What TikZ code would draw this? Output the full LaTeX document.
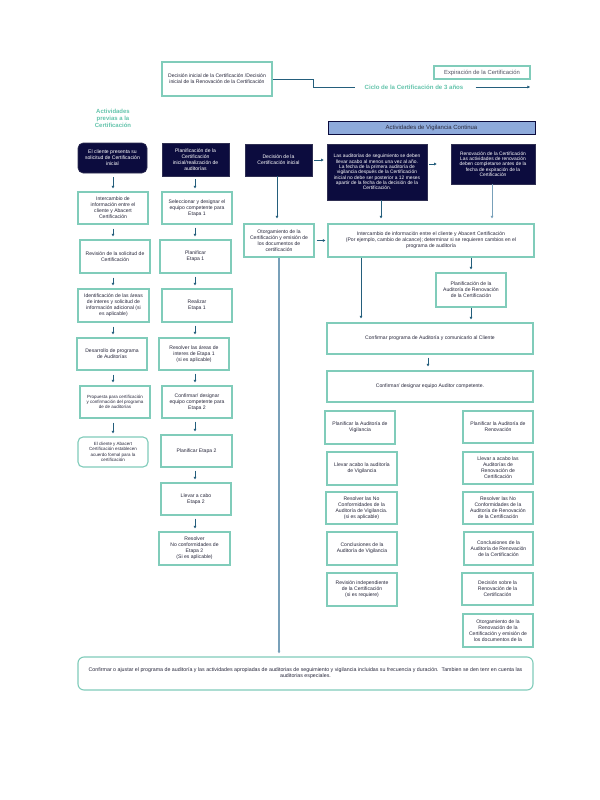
\documentclass[tikz,border=0pt]{standalone}
\usepackage{fontspec}
\setmainfont{Liberation Sans}
\usetikzlibrary{arrows.meta}
\definecolor{tealb}{RGB}{128,204,186}
\definecolor{navy}{RGB}{12,12,62}
\definecolor{arrc}{RGB}{36,94,124}
\definecolor{tealt}{RGB}{100,196,172}
\definecolor{txt}{RGB}{40,40,60}
\definecolor{hdr}{RGB}{142,170,219}
\definecolor{lline}{RGB}{120,160,185}
\tikzset{
  tb/.style={draw=tealb, line width=1.1bp, fill=white, text=txt, align=center,
    font=\fontsize{5.1}{6.1}\selectfont, inner sep=1bp},
  db/.style={draw=navy!70!gray, line width=0.6bp, fill=navy, text=white, align=center,
    font=\fontsize{5.1}{6.1}\selectfont, inner sep=1bp},
  sz/.style 2 args={minimum width=#1bp, minimum height=#2bp},
  arr/.style={draw=arrc, line width=0.8bp, -{Triangle[length=2.6bp,width=2.6bp]}},
  small/.style={font=\fontsize{4.5}{5.3}\selectfont},
}
\begin{document}
\begin{tikzpicture}[x=1bp,y=-1bp]
\useasboundingbox[fill=white] (0,0) rectangle (600,800);
% top
\node[tb, sz={110}{34}] (T1) at (217,79) {Decisión inicial de la Certificación /Decisión\\inicial de la Renovación de la Certificación};
\node[tb, sz={96}{13}, text=txt!80, font=\fontsize{5.9}{7}\selectfont, inner sep=0pt] (E) at (482,72.5) {Expiración de la Certificación};
\node[text=tealt, font=\bfseries\fontsize{6.1}{7}\selectfont, inner sep=0pt] (ciclo) at (414,87) {Ciclo de la Certificación de 3 años};
\coordinate (aend) at (530,87);
\draw[draw=arrc, line width=0.8bp] (T1.east) -- ++(41,0) |- ([xshift=-9bp]ciclo.west);
\draw[arr] ([xshift=12bp]ciclo.east) -- (aend);
% heading
\node[text=tealt, font=\bfseries\fontsize{6}{7}\selectfont, align=center] (H) at (113,118) {Actividades\\previas a la\\Certificación};
% left column
\coordinate (cA) at (113,0);
\coordinate (cB) at (195,0);
\node[db, sz={69}{30}, rounded corners=5bp] (L1) at (112.5,158) {El cliente presenta su\\solicitud de Certificación\\inicial};
\node[tb, sz={70}{32}] (L2) at (113,208) {Intercambio de\\información entre el\\cliente y Abacert\\Certificación};
\node[tb, sz={70}{33}] (L3) at (115,256.5) {Revisión de la solicitud de\\Certificación};
\node[tb, sz={71}{33}] (L4) at (113.5,305.5) {Identificación de las áreas\\de interes y solicitud de\\información adicional (si\\es aplicable)};
\node[tb, sz={70}{32}] (L5) at (112,354) {Desarrollo de programa\\de Auditorías};
\node[tb, sz={70}{32}, small] (L6) at (115,402) {Propuesta para certificación\\y confirmación del programa\\de de auditorías};
\node[tb, sz={70}{30}, small, rounded corners=5bp] (L7) at (113,452) {El cliente y Abacert\\Certificación establecen\\acuerdo formal para la\\certificación};
% second column
\node[db, sz={67}{33}] (C1) at (195.5,159.5) {Planificación de la\\Certificación\\inicial/realización de\\auditorías};
\node[tb, sz={70}{32}] (C2) at (197,208) {Seleccionar y designar el\\equipo competente para\\Etapa 1};
\node[tb, sz={71}{33}] (C3) at (195.5,256.5) {Planificar\\Etapa 1};
\node[tb, sz={70}{33}] (C4) at (197,305.5) {Realizar\\Etapa 1};
\node[tb, sz={70}{32}] (C5) at (194,354) {Resolver las áreas de\\interes de Etapa 1\\(si es aplicable)};
\node[tb, sz={70}{32}] (C6) at (197,402) {Confirmar/ designar\\equipo competente para\\Etapa 2};
\node[tb, sz={71}{32}] (C7) at (196.5,451) {Planificar Etapa 2};
\node[tb, sz={70}{32}] (C8) at (196,499) {Llevar a cabo\\Etapa 2};
\node[tb, sz={71}{33}] (C9) at (194.5,548.5) {Resolver\\No conformidades de\\Etapa 2\\(Si es aplicable)};
\foreach \a/\b in {L1/L2,L2/L3,L3/L4,L4/L5,L5/L6,L6/L7}
  \draw[arr, shorten <=4bp, shorten >=3bp] (\a.south -| cA) -- (\b.north -| cA);
\foreach \a/\b in {C1/C2,C2/C3,C3/C4,C4/C5,C5/C6,C6/C7,C7/C8,C8/C9}
  \draw[arr, shorten <=3bp, shorten >=3bp] (\a.south -| cB) -- (\b.north -| cB);
% middle
\node[db, sz={67}{32}] (D1) at (278.5,160) {Decisión de la\\Certificación inicial};
\node[tb, sz={70}{33}] (D2) at (279,240.5) {Otorgamiento de la\\Certificación y emisión de\\los documentos de\\certificación};
% right
\node[draw=navy, line width=0.7bp, fill=hdr, text=txt, sz={207}{13}, font=\fontsize{6}{7}\selectfont, inner sep=0pt] (HV) at (431.5,127.5) {Actividades de Vigilancia Continua};
\node[db, sz={100}{56}, font=\fontsize{4.9}{5.4}\selectfont] (R1) at (377,172) {Las auditorías de seguimiento se deben\\llevar acabo al menos una vez al año.\\La fecha de la primera auditoría de\\vigilancia después de la Certificación\\inicial no debe ser posterior a 12 meses\\apartir de la fecha de la decisión de la\\Certificación.};
\node[db, sz={84}{40}, font=\fontsize{4.9}{5.4}\selectfont] (R2) at (493,164) {Renovación de la Certificación\\Las actividades de renovación\\deben completarse antes de la\\fecha de expiración de la\\Certificación};
\node[tb, sz={206}{33}] (I1) at (431,240.5) {Intercambio de información entre el cliente y Abacert Certificación\\(Por ejemplo, cambio de alcance); determinar si se requieren cambios en el\\programa de auditoría};
\node[tb, sz={70}{34}] (PR) at (471,290) {Planificación de la\\Auditoría de Renovación\\de la Certificación};
\node[tb, sz={206}{31}] (CP) at (430,338.5) {Confirmar programa de Auditoría y comunicarlo al Cliente};
\node[tb, sz={206}{31}] (CE) at (430,386.5) {Confirmar/ designar equipo Auditor competente.};
\node[tb, sz={70}{33}] (V1) at (360,427.5) {Planificar la Auditoría de\\Vigilancia};
\node[tb, sz={70}{33}] (V2) at (362,468.5) {Llevar acabo la auditoría\\de Vigilancia};
\node[tb, sz={71}{32}] (V3) at (361.5,508) {Resolver las No\\Conformidades de la\\Auditoría de Vigilancia.\\(si es aplicable)};
\node[tb, sz={70}{33}] (V4) at (362,548.5) {Conclusiones de la\\Auditoría de Vigilancia};
\node[tb, sz={70}{33}] (V5) at (362,589.5) {Revisión independiente\\de la Certificación\\(si es requiere)};
\node[tb, sz={70}{32}] (W1) at (498,427) {Planificar la Auditoría de\\Renovación};
\node[tb, sz={70}{32}] (W2) at (498,468) {Llevar a acabo las\\Auditorías de\\Renovación de\\Certificación};
\node[tb, sz={70}{32}] (W3) at (498,508) {Resolver las No\\Conformidades de la\\Auditoría de Renovación\\de la Certificación};
\node[tb, sz={69}{33}] (W4) at (498.5,548.5) {Conclusiones de la\\Auditoría de Renovación\\de la Certificación};
\node[tb, sz={71}{32}] (W5) at (497.5,589) {Decisión sobre la\\Renovación de la\\Certificación};
\node[tb, sz={70}{33}] (W6) at (498,630.5) {Otorgamiento de la\\Renovación de la\\Certificación y emisión de\\los documentos de la};
\node[tb, sz={455}{33}, rounded corners=6bp, font=\fontsize{5.3}{6.2}\selectfont] (B) at (305.5,673.5) {Confirmar o ajustar el programa de auditoría y las actividades apropiadas de auditorias de seguimiento y vigilancia incluidas su frecuencia y duración.\ \ Tambien se den tenr en cuenta las\\auditorias especiales.};
% connectors
\coordinate (cD) at (277,0);
\coordinate (cL) at (279,0);
\coordinate (cR1) at (381,0);
\coordinate (cR2) at (492,0);
\coordinate (cI) at (361,0);
\coordinate (cP) at (471,0);
\coordinate (cC) at (428,0);
\draw[arr, shorten >=5bp] (D1.south -| cD) -- (D2.north -| cD);
\draw[arr, shorten <=2bp, shorten >=3bp] (D1.east) -- (R1.west |- D1.east);
\draw[arr, shorten <=2bp, shorten >=14bp] (R1.east |- R2.west) -- (R2.west);
\draw[arr, shorten <=2bp, shorten >=2bp] (D2.east) -- (I1.west);
\draw[arr, shorten >=5bp] (R1.south -| cR1) -- (I1.north -| cR1);
\draw[arr, draw=lline, shorten >=5bp] (R2.south -| cR2) -- (I1.north -| cR2);
\draw[arr, shorten >=4bp] (I1.south -| cI) -- (CP.north -| cI);
\draw[arr, shorten >=3bp] (I1.south -| cP) -- (PR.north -| cP);
\draw[arr, shorten >=3bp] (PR.south -| cP) -- (CP.north -| cP);
\draw[arr, shorten <=3bp, shorten >=4bp] (CP.south -| cC) -- (CE.north -| cC);
\draw[arr, draw=lline, line width=1.1bp, shorten >=3bp] (D2.south -| cL) -- (B.north -| cL);
\end{tikzpicture}
\end{document}
